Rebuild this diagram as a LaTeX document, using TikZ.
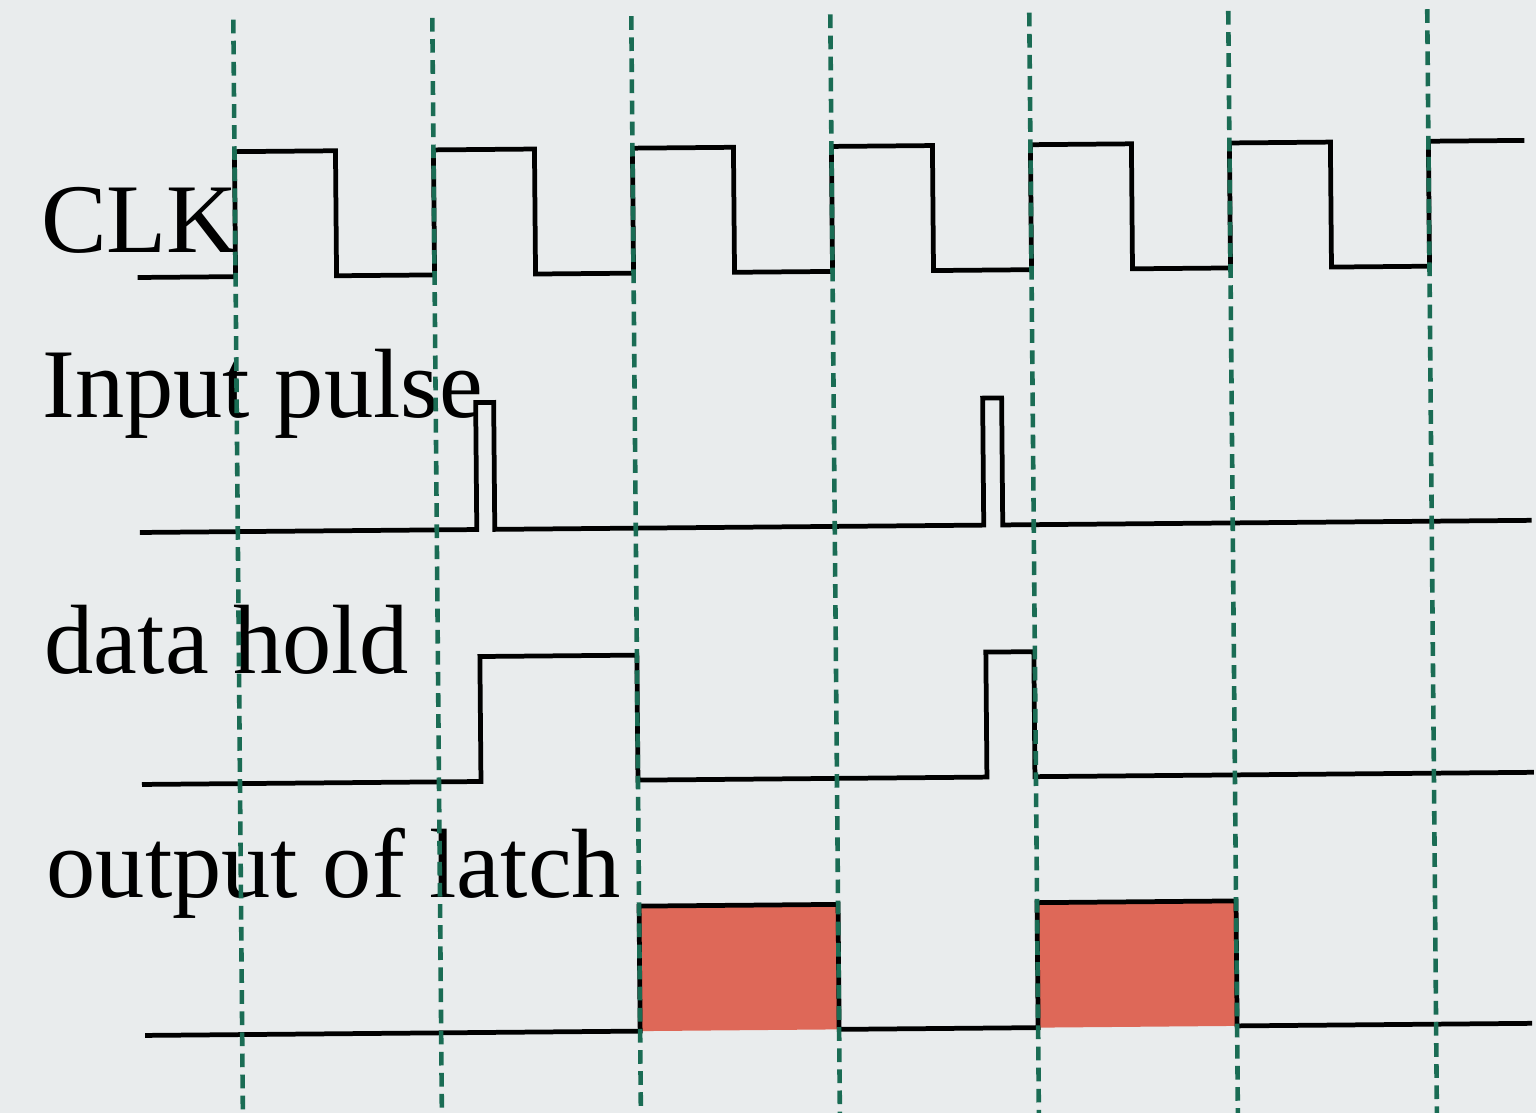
\documentclass[tikz,border=0pt]{standalone}
\usepackage{fontspec}
\setmainfont{Liberation Serif}
\definecolor{bgpaper}{RGB}{233,236,237}
\definecolor{gridteal}{RGB}{26,108,84}
\definecolor{latchred}{RGB}{222,104,88}

\tikzset{
  wave/.style={line width=1.35pt, black, line join=miter},
  clkline/.style={gridteal, line width=1.3pt, dash pattern=on 3.9pt off 2.1pt},
  sig/.style={anchor=base west, inner sep=0pt, font=\fontsize{28}{30}\selectfont},
}

\begin{document}
\begin{tikzpicture}[x=0.01cm, y=-0.01cm]

% paper
\fill[bgpaper] (0,0) rectangle (1536,1113);
\useasboundingbox (0,0) rectangle (1536,1113);
\clip (0,0) rectangle (1536,1113);

\begin{scope}[rotate around={0.5:(768,556)}]

% signal names
\node[sig] (clk)   at (43,246) {CLK};
\node[sig] (inp)   at (43,411) {Input pulse};
\node[sig] (hold)  at (43,667) {data hold};
\node[sig] (latch) at (43,891) {output of latch};

% CLK
\draw[wave] (140,272) -- (238,272)
  \foreach \i in {0,...,5} { -- ({238+199*\i},147) -- ({339+199*\i},147) -- ({339+199*\i},272) -- ({437+199*\i},272) }
  -- (1432,147) -- (1528,147);

% Input pulse
\draw[wave] (140,527) -- (477,527) -- (477,400) -- (495,400) -- (495,527)
  -- (984,527) -- (984,400) -- (1003,400) -- (1003,527) -- (1532,527);

% data hold
\draw[wave] (140,779) -- (479,779) -- (479,654) -- (636,654) -- (636,779)
  -- (985,779) -- (985,654) -- (1033,654) -- (1033,779) -- (1532,779);

% output of latch
\fill[latchred] (636,905) rectangle (835,1030);
\fill[latchred] (1034,905) rectangle (1233,1030);
\draw[wave] (141,1030) -- (636,1030) -- (636,905) -- (835,905) -- (835,1030)
  -- (1034,1030) -- (1034,905) -- (1233,905) -- (1233,1030) -- (1528,1030);

% clock edges
\foreach \i in {0,...,6}
  \draw[clkline] ({238+199*\i},15) -- ({238+199*\i},1125);

\end{scope}

\end{tikzpicture}
\end{document}
